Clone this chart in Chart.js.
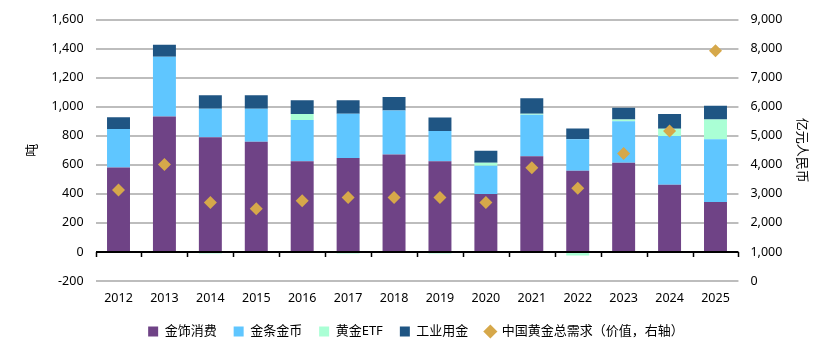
<!DOCTYPE html>
<html><head><meta charset="utf-8">
<script src="https://cdn.jsdelivr.net/npm/chart.js@4"></script>
<style>html,body{margin:0;padding:0;background:#fff}#w{width:832px;height:354px}</style>
</head><body><div id="w"><canvas id="c"></canvas></div>
<script>
const years = ['2012','2013','2014','2015','2016','2017','2018','2019','2020','2021','2022','2023','2024','2025'];
const jewelry = [582, 932, 790, 758, 625, 647, 670, 625, 399, 658, 559, 614, 462, 343];
const barCoin = [264, 412, 196, 228, 284, 305, 304, 207, 194, 287, 217, 286, 336, 433];
const etf = [0, 0, -10, 0, 40, -10, -8, -10, 21, 7, -25, 11, 50, 135];
const industrial = [81, 82, 92, 92, 95, 92, 93, 93, 83, 106, 74, 82, 101, 95];
const totalValue = [3130, 4010, 2700, 2490, 2760, 2870, 2870, 2870, 2700, 3900, 3190, 4390, 5160, 7925];
const leftTicks = {min: -200, max: 1600, step: 200};
const rightTicks = {min: 0, max: 9000, step: 1000};

const FONT = '"Noto Sans", "Noto Sans CJK SC", sans-serif';
Chart.defaults.font.family = FONT;
Chart.defaults.color = '#000';

const axisTicks = {
  id: 'axisTicks',
  beforeDatasetsDraw(chart) {
    const x = chart.scales.x, y = chart.scales.y, ctx = chart.ctx;
    const y0 = y.getPixelForValue(0);
    ctx.save();
    ctx.strokeStyle = '#000';
    ctx.lineWidth = 1.5;
    ctx.beginPath();
    const n = x.ticks.length;
    const w = (x.right - x.left) / n;
    for (let i = 0; i <= n; i++) {
      const px = Math.round(x.left + i * w) + 0.5;
      ctx.moveTo(px, y0); ctx.lineTo(px, y0 + 5);
    }
    ctx.stroke();
    ctx.restore();
  }
};

const bw = {borderWidth: 0, barPercentage: 0.5, categoryPercentage: 1.0, stack: 's', pointStyle: 'rect', yAxisID: 'y'};
new Chart(document.getElementById('c'), {
  type: 'bar',
  data: {
    labels: years,
    datasets: [
      {type: 'line', label: '中国黄金总需求（价值，右轴）', data: totalValue, yAxisID: 'y1', showLine: false,
       pointStyle: 'rectRot', pointRadius: 6.5, pointHoverRadius: 6.5, backgroundColor: '#D6A84A', borderColor: '#D6A84A', borderWidth: 0, order: 0},
      {label: '金饰消费', data: jewelry, backgroundColor: '#6F4386', ...bw, order: 1},
      {label: '金条金币', data: barCoin, backgroundColor: '#5FC6FF', ...bw, order: 1},
      {label: '黄金ETF', data: etf, backgroundColor: '#AAFFD5', ...bw, order: 1},
      {label: '工业用金', data: industrial, backgroundColor: '#1F5583', ...bw, order: 1}
    ]
  },
  options: {
    responsive: true, maintainAspectRatio: false, animation: false,
    layout: {padding: {left: 8, right: 8, top: 7, bottom: 6}},
    plugins: {
      tooltip: {enabled: false},
      legend: {
        position: 'bottom',
        labels: {
          font: {size: 13}, usePointStyle: true, boxWidth: 10, boxHeight: 10, padding: 17,
          sort: (a, b) => (a.datasetIndex === 0 ? 1 : 0) - (b.datasetIndex === 0 ? 1 : 0)
        }
      }
    },
    scales: {
      x: {
        stacked: true,
        grid: {display: false}, border: {display: false},
        ticks: {font: {size: 12.5}, padding: 2}
      },
      y: {
        stacked: true, position: 'left',
        min: leftTicks.min, max: leftTicks.max,
        ticks: {stepSize: leftTicks.step, font: {size: 12.5}, padding: 12,
          callback: v => v.toLocaleString('en-US')},
        grid: {color: c => c.tick && c.tick.value === 0 ? '#000' : '#BDBDBD', lineWidth: 2, drawTicks: false},
        border: {display: false},
        title: {display: true, text: '吨', font: {size: 13}, padding: {top: 16, bottom: 0}}
      },
      y1: {
        position: 'right',
        min: rightTicks.min, max: rightTicks.max,
        ticks: {stepSize: rightTicks.step, font: {size: 12.5}, padding: 12,
          callback: v => v.toLocaleString('en-US')},
        grid: {display: false, drawTicks: false}, border: {display: false},
        title: {display: true, text: '亿元人民币', font: {size: 13}, padding: {top: 14, bottom: 0}}
      }
    }
  },
  plugins: [axisTicks]
});
</script>
</body></html>
